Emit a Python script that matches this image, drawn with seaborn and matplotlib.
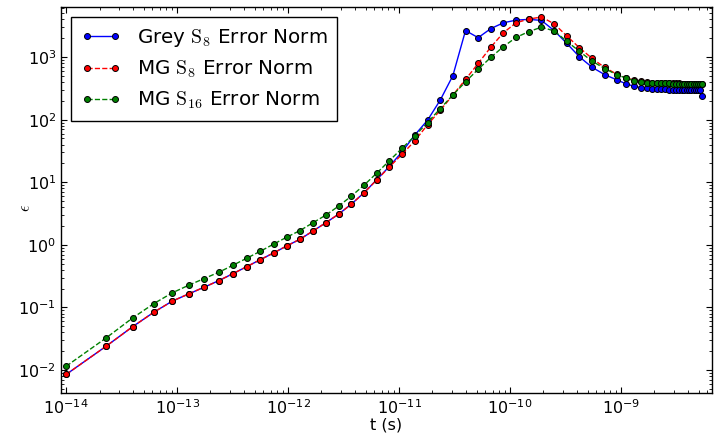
import numpy as np
import pandas as pd
import matplotlib
matplotlib.use("Agg")
import matplotlib.pyplot as plt
import matplotlib.ticker as mticker
import seaborn as sns

# === tiempos (s)
t = [1e-14, 2.3e-14, 3.99e-14, 6.19e-14, 9.04e-14, 1.276e-13, 1.758e-13, 2.386e-13,
     3.20e-13, 4.26e-13, 5.64e-13, 7.43e-13, 9.76e-13, 1.279e-12, 1.673e-12, 2.185e-12,
     2.850e-12, 3.715e-12, 4.840e-12, 6.302e-12, 8.202e-12, 1.0673e-11, 1.3885e-11,
     1.806e-11, 2.349e-11, 3.054e-11, 3.971e-11, 5.164e-11, 6.714e-11, 8.729e-11,
     1.1349e-10, 1.4755e-10, 1.9183e-10, 2.4939e-10, 3.2423e-10, 4.2151e-10, 5.4797e-10,
     7.1238e-10, 9.12e-10, 1.112e-9, 1.312e-9, 1.512e-9, 1.712e-9, 1.912e-9, 2.112e-9,
     2.312e-9, 2.512e-9, 2.712e-9, 2.912e-9, 3.112e-9, 3.312e-9, 3.512e-9, 3.712e-9,
     3.912e-9, 4.112e-9, 4.312e-9, 4.512e-9, 4.712e-9, 4.912e-9, 5.112e-9, 5.312e-9]

# === normas de error
grey_s8 = [8.5e-3, 0.0241, 0.0495, 0.0841, 0.126, 0.165, 0.211, 0.269, 0.348, 0.450,
           0.582, 0.745, 0.964, 1.23, 1.66, 2.25, 3.09, 4.47,
           6.8, 11.0, 18.0, 30.8,
           57, 98, 205, 504, 2650, 2040, 2850, 3530, 3890, 4000, 3850, 2650,
           1660, 1010, 687, 524, 434, 373, 341, 325, 317,
           313, 310, 307, 305, 303, 302, 301, 300, 299, 298, 298, 297, 297, 296, 296, 296, 295, 235]

mg_s8 = [8.5e-3, 0.0241, 0.0495, 0.0841, 0.126, 0.165, 0.211, 0.269, 0.348, 0.450,
         0.582, 0.745, 0.964, 1.23, 1.66, 2.25, 3.09, 4.47,
         6.8, 10.9, 17.6, 28.1,
         46, 83, 141, 247, 438, 791, 1440, 2455, 3530, 4045, 4360, 3400,
         2180, 1410, 953, 681, 535, 470, 425, 408, 397,
         392, 389, 386, 384, 382, 381, 380, 379, 378, 378, 377, 377, 376, 376, 376, 375, 375, 375]

mg_s16 = [0.0115, 0.0327, 0.0683, 0.1155, 0.171, 0.227, 0.290, 0.366, 0.474, 0.614,
          0.792, 1.03, 1.33, 1.69, 2.25, 2.98, 4.15,
          6.0, 9.0, 14.0, 22.2, 35.1,
          55, 90, 150, 247, 403, 638, 988, 1470, 2060, 2550, 3000, 2620,
          1790, 1235, 860, 656, 524, 461, 418, 403, 392,
          388, 385, 383, 381, 379, 378, 377, 376, 375, 375, 374, 374, 373, 373, 373, 372, 372, 372]

etiquetas = [r"Grey $\mathrm{S}_8$ Error Norm",
             r"MG $\mathrm{S}_8$ Error Norm",
             r"MG $\mathrm{S}_{16}$ Error Norm"]

sns.set_style("ticks")
plt.rcParams.update({
    "font.family": ["DejaVu Sans"],
    "mathtext.fontset": "cm",
    "text.color": "black", "axes.labelcolor": "black",
    "xtick.direction": "in", "ytick.direction": "in",
    "xtick.top": True, "ytick.right": True,
    "xtick.minor.visible": True, "ytick.minor.visible": True,
    "xtick.major.size": 4, "ytick.major.size": 4,
    "xtick.minor.size": 2, "ytick.minor.size": 2,
    "axes.edgecolor": "black", "axes.linewidth": 1.0,
    "xtick.color": "black", "ytick.color": "black",
})

fig, ax = plt.subplots(figsize=(7.18, 4.33), dpi=100)
fig.subplots_adjust(left=0.085, right=0.9916, bottom=0.0924, top=0.9838)

estilos = [("blue", "-"), ("red", "--"), ("green", "--")]
for serie, lab, (col, ls) in zip([grey_s8, mg_s8, mg_s16], etiquetas, estilos):
    df = pd.DataFrame({"t": t, "err": serie})
    sns.lineplot(data=df, x="t", y="err", ax=ax, color=col, linestyle=ls, lw=1,
                 marker="o", markersize=4.3, markeredgecolor="black", markeredgewidth=0.7,
                 label=lab, estimator=None, sort=False)

ax.set_xscale("log")
ax.set_yscale("log")
ax.set_xlim(9.0e-15, 6.6e-9)
ax.set_ylim(4.3e-3, 6.3e3)
ax.xaxis.set_minor_formatter(mticker.NullFormatter())
ax.yaxis.set_minor_formatter(mticker.NullFormatter())
ax.set_xlabel("t (s)", fontsize=11.5, labelpad=1)
ax.set_ylabel(r"$\epsilon$", fontsize=11.5)
ax.yaxis.set_label_coords(-0.043, 0.48)
ax.tick_params(labelsize=11.5, which="both")
for s in ax.spines.values():
    s.set_visible(True)

leg = ax.legend(loc="upper left", fontsize=14.3, numpoints=2, fancybox=False,
                framealpha=1, borderaxespad=0.5, borderpad=0.5, handlelength=2.0)
leg.get_frame().set_edgecolor("black")
for txt in leg.get_texts():
    txt.set_color("black")

fig.savefig("out.png", dpi=100)
